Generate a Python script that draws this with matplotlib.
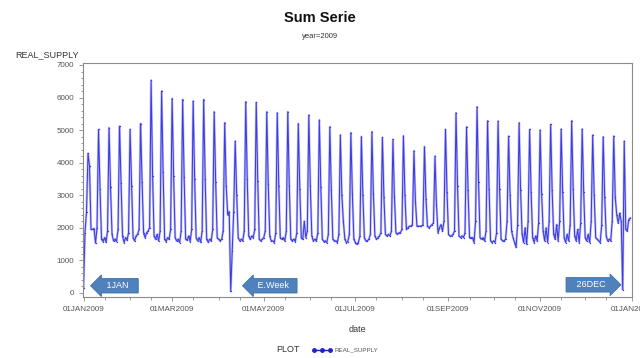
import numpy as np
import pandas as pd
import matplotlib
matplotlib.use("Agg")
from matplotlib import pyplot as plt
import matplotlib.dates as mdates
from matplotlib.lines import Line2D
from matplotlib.ticker import MultipleLocator, FuncFormatter

plt.rcParams['font.family'] = ['Liberation Sans', 'DejaVu Sans']

# daily REAL_SUPPLY for 2009, one row per week (Thu..Wed)
rows = [
    [150, 1850, 2500, 4285, 3900, 1950, 1950],
    [1980, 1530, 2000, 5020, 3200, 1650, 1580],
    [1700, 1560, 1900, 5070, 3250, 1800, 1600],
    [1650, 1580, 1950, 5120, 3365, 1750, 1550],
    [1700, 1620, 1850, 5020, 3300, 1700, 1600],
    [1750, 1800, 1950, 5200, 3400, 1850, 1700],
    [1850, 1900, 2000, 6530, 3600, 1750, 1650],
    [1800, 1600, 1900, 6200, 3700, 1650, 1580],
    [1700, 1650, 1950, 5970, 3600, 1700, 1600],
    [1650, 1550, 1900, 5940, 3550, 1650, 1620],
    [1750, 1580, 1950, 5890, 3500, 1700, 1600],
    [1700, 1560, 1900, 5940, 3500, 1650, 1560],
    [1650, 1600, 1950, 5560, 3400, 1700, 1650],
    [1600, 1650, 1900, 5225, 3300, 2400, 2500],
    [50, 1300, 2500, 4660, 3000, 1700, 1600],
    [1650, 1600, 1900, 5870, 3500, 1750, 1650],
    [1750, 1700, 1950, 5850, 3450, 1650, 1600],
    [1650, 1700, 1900, 5560, 3350, 1750, 1600],
    [1600, 1550, 1850, 5530, 3300, 1700, 1650],
    [1700, 1600, 1900, 5560, 3300, 1650, 1600],
    [1650, 1580, 1850, 5200, 3200, 1700, 1650],
    [2200, 1700, 1900, 5460, 3300, 1750, 1600],
    [1650, 1600, 1850, 5310, 3250, 1650, 1580],
    [1600, 1550, 1800, 5100, 3150, 1650, 1600],
    [1600, 1550, 1800, 4850, 3000, 2200, 1650],
    [1550, 1580, 1800, 4920, 3050, 1650, 1550],
    [1500, 1550, 1750, 4800, 3000, 1700, 1600],
    [1600, 1650, 1800, 4950, 3050, 1750, 1650],
    [1700, 1750, 1850, 4775, 2950, 1800, 1750],
    [1800, 1750, 1900, 4715, 2950, 1850, 1800],
    [1850, 1850, 1950, 4825, 3000, 1950, 2000],
    [2050, 2050, 2100, 4365, 2800, 2050, 2050],
    [2050, 2050, 2100, 4490, 2900, 2050, 2000],
    [2050, 2100, 2150, 4200, 2700, 1850, 2000],
    [2100, 1900, 2200, 5020, 3100, 1800, 1750],
    [1750, 1800, 1900, 5530, 3300, 1750, 1700],
    [1750, 1700, 1850, 5100, 3150, 1700, 1700],
    [1700, 1550, 2200, 5715, 3400, 1700, 1650],
    [1700, 1600, 1900, 5285, 3200, 1600, 1550],
    [1600, 1550, 1850, 5275, 3200, 1650, 1600],
    [1600, 1650, 2200, 4815, 3000, 1900, 1700],
    [1550, 1400, 2100, 5225, 3150, 1800, 1550],
    [2000, 1500, 2200, 5020, 3100, 1700, 1550],
    [1750, 1600, 2150, 5000, 3050, 1900, 1600],
    [2000, 1550, 2200, 5175, 3150, 1800, 1650],
    [2100, 1600, 2200, 5030, 3100, 1700, 1550],
    [1800, 1600, 2100, 5285, 3200, 1750, 1600],
    [1950, 1550, 2150, 5030, 3100, 1700, 1600],
    [1800, 1550, 2200, 4850, 3000, 1700, 1650],
    [1600, 1550, 2100, 4795, 2950, 1750, 1600],
    [1650, 1600, 2200, 4815, 2950, 2400, 2150],
    [2450, 2200, 100, 4660, 1950, 1900, 2250],
]
last_day = [2300]

supply = np.array([v for r in rows for v in r] + last_day)
dates = pd.date_range("2009-01-01", periods=len(supply), freq="D")

fig = plt.figure(figsize=(6.4, 3.58), dpi=100)
ax = fig.add_axes([83/640, 1-297/358, 549/640, 234/358])

# soft halo under the line, like the blurry original
ax.plot(dates, supply, color='#b0b0f6', lw=1.7, alpha=0.8)
ax.plot(dates, supply, color='#3c3ce4', lw=0.75, marker='o', ms=1.0,
        markeredgewidth=0)

ax.set_ylim(-123, 7061)
ax.set_xlim(pd.Timestamp("2008-12-31 16:00"), pd.Timestamp("2010-01-01 04:00"))
ax.yaxis.set_major_locator(MultipleLocator(1000))
ax.yaxis.set_minor_locator(MultipleLocator(200))
ax.xaxis.set_major_locator(mdates.MonthLocator(bymonth=[1, 3, 5, 7, 9, 11]))
ax.xaxis.set_minor_locator(mdates.DayLocator(bymonthday=[1, 15]))
ax.xaxis.set_major_formatter(FuncFormatter(
    lambda v, p: mdates.num2date(v).strftime("%d%b%Y").upper()))

for s in ax.spines.values():
    s.set_color('#8a8a8a')
    s.set_linewidth(0.8)
ax.tick_params(which='both', direction='out', colors='#8a8a8a',
               labelcolor='#555555', labelsize=5.8, width=0.6)
ax.tick_params(which='major', length=3)
ax.tick_params(which='minor', length=1.8)

fig.text(0.5, 1-18/358, "Sum Serie", ha='center', va='center',
         fontsize=10.5, fontweight='bold', color='#111111')
fig.text(0.5, 1-37/358, "year=2009", ha='center', va='center',
         fontsize=5.5, color='#333333')
fig.text(15/640, 1-55/358, "REAL_SUPPLY", ha='left', va='center',
         fontsize=6.5, color='#333333')
fig.text(357/640, 1-329/358, "date", ha='center', va='center',
         fontsize=6.5, color='#333333')

# arrow callouts
arrow_kw = dict(color='white', fontsize=6.5, va='center', ha='center',
                transform=ax.transAxes)
box = dict(fc='#4f81bd', ec='#3c6ea8', lw=0.6)
ax.text(0.062, 0.048, "   1JAN   ", bbox=dict(boxstyle='larrow,pad=0.3', **box),
        **arrow_kw)
ax.text(0.345, 0.048, "   E.Week  ", bbox=dict(boxstyle='larrow,pad=0.3', **box),
        **arrow_kw)
ax.text(0.925, 0.052, "   26DEC   ", bbox=dict(boxstyle='rarrow,pad=0.3', **box),
        **arrow_kw)

# legend
fig.text(288/640, 1-350/358, "PLOT", ha='center', va='center',
         fontsize=6.5, color='#333333')
proxy = Line2D([], [], color='#2020d0', lw=1.0, marker='o', ms=2.5)
fig.legend(handles=[proxy], labels=['REAL_SUPPLY'], loc='center left',
           bbox_to_anchor=(306/640, 1-350/358), frameon=False, numpoints=3,
           fontsize=4.5, handlelength=3.2, handletextpad=0.4,
           labelcolor='#555555')

fig.savefig("out.png", dpi=100)
